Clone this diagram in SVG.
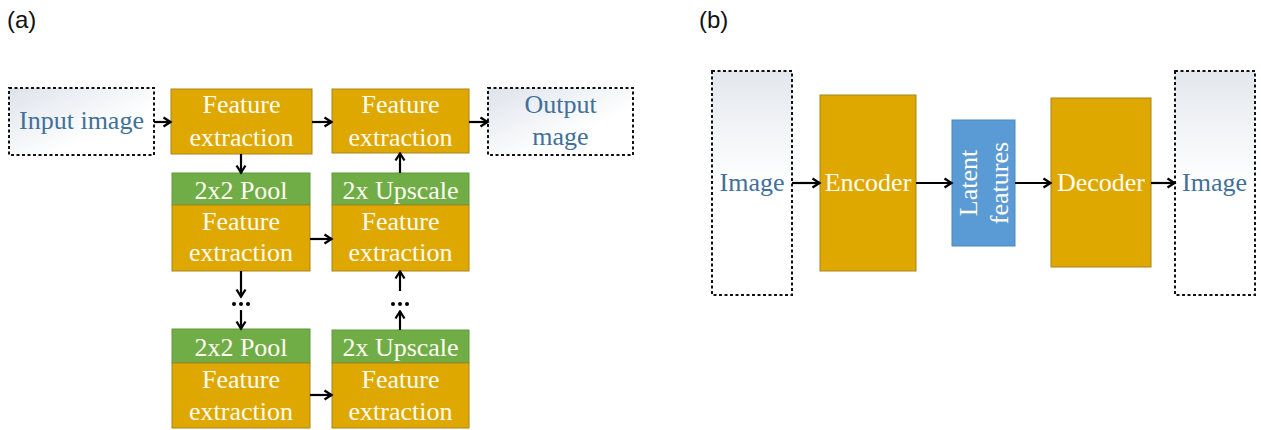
<svg xmlns="http://www.w3.org/2000/svg" width="1261" height="430" viewBox="0 0 1261 430">
<defs>
<linearGradient id="gA" x1="0" y1="0" x2="1" y2="1">
<stop offset="0" stop-color="#DEE3EB"/>
<stop offset="0.65" stop-color="#FFFFFF"/>
</linearGradient>
<linearGradient id="gB" x1="0" y1="0" x2="0" y2="1">
<stop offset="0" stop-color="#E3E7ED"/>
<stop offset="0.5" stop-color="#FFFFFF"/>
</linearGradient>
<marker id="ah" viewBox="0 0 12 12" refX="10.5" refY="6" markerWidth="12" markerHeight="12" markerUnits="userSpaceOnUse" orient="auto">
<path d="M3,1.5 L10,6 L3,10.5" fill="none" stroke="#000" stroke-width="2.3" stroke-linejoin="miter"/>
</marker>
</defs>
<style>
.lbl{font-family:"Liberation Sans",Arial,sans-serif;font-size:24px;fill:#111}
.t{font-family:"Liberation Serif","Times New Roman",serif;font-size:26px;text-anchor:middle}
.w{fill:#FFFDF2}
.b{fill:#41709A}
.dash{stroke:#111;stroke-width:2;stroke-dasharray:3 2.5}
.fe{fill:#DFA800;stroke:#A8841A;stroke-width:1}
.gr{fill:#70AD47;stroke:#5E9A3A;stroke-width:1}
.bl{fill:#5B9BD5;stroke:#4A88C0;stroke-width:1}
.c{stroke:#000;stroke-width:2.2;fill:none;marker-end:url(#ah)}
.dot{fill:#000}
</style>
<text class="lbl" x="7" y="28">(a)</text>
<text class="lbl" x="699" y="28">(b)</text>

<g id="input">
<rect x="9" y="88" width="145" height="67" fill="url(#gA)" class="dash"/>
<text class="t b" x="81.5" y="129">Input image</text>
</g>
<g id="fe1">
<rect class="fe" x="171" y="89" width="141" height="65"/>
<text class="t w" x="241.5" y="113">Feature</text>
<text class="t w" x="241.5" y="146">extraction</text>
</g>
<g id="fe2">
<rect class="fe" x="332" y="89" width="137" height="64"/>
<text class="t w" x="400.5" y="113">Feature</text>
<text class="t w" x="400.5" y="146">extraction</text>
</g>
<g id="output">
<rect x="488" y="88" width="145" height="67" fill="url(#gA)" class="dash"/>
<text class="t b" x="560.5" y="113">Output</text>
<text class="t b" x="560.5" y="145">mage</text>
</g>
<g id="pool1">
<rect class="gr" x="172" y="173" width="138" height="32"/>
<text class="t w" x="241" y="199">2x2 Pool</text>
</g>
<g id="fe3">
<rect class="fe" x="172" y="205" width="138" height="66"/>
<text class="t w" x="241" y="230">Feature</text>
<text class="t w" x="241" y="261">extraction</text>
</g>
<g id="up1">
<rect class="gr" x="332" y="173" width="137" height="32"/>
<text class="t w" x="400.5" y="199">2x Upscale</text>
</g>
<g id="fe4">
<rect class="fe" x="332" y="205" width="137" height="66"/>
<text class="t w" x="400.5" y="230">Feature</text>
<text class="t w" x="400.5" y="261">extraction</text>
</g>
<g id="pool2">
<rect class="gr" x="172" y="329" width="138" height="34"/>
<text class="t w" x="241" y="356">2x2 Pool</text>
</g>
<g id="fe5">
<rect class="fe" x="172" y="363" width="138" height="65"/>
<text class="t w" x="241" y="388">Feature</text>
<text class="t w" x="241" y="420">extraction</text>
</g>
<g id="up2">
<rect class="gr" x="332" y="330" width="137" height="33"/>
<text class="t w" x="400.5" y="356">2x Upscale</text>
</g>
<g id="fe6">
<rect class="fe" x="332" y="363" width="137" height="65"/>
<text class="t w" x="400.5" y="388">Feature</text>
<text class="t w" x="400.5" y="420">extraction</text>
</g>

<g id="imgL">
<rect x="712" y="71" width="80" height="224" fill="url(#gB)" class="dash"/>
<text class="t b" x="752" y="191">Image</text>
</g>
<g id="encoder">
<rect class="fe" x="820" y="95" width="96" height="176"/>
<text class="t w" x="868" y="191">Encoder</text>
</g>
<g id="latent">
<rect class="bl" x="952" y="120" width="63" height="126"/>
<text class="t w" transform="translate(977,183) rotate(-90)">Latent</text>
<text class="t w" transform="translate(1008,183) rotate(-90)">features</text>
</g>
<g id="decoder">
<rect class="fe" x="1051" y="98" width="100" height="169"/>
<text class="t w" x="1101" y="191">Decoder</text>
</g>
<g id="imgR">
<rect x="1175" y="71" width="80" height="224" fill="url(#gB)" class="dash"/>
<text class="t b" x="1214.5" y="191">Image</text>
</g>

<g id="connectors">
<line class="c" x1="154" y1="122" x2="171" y2="122"/>
<line class="c" x1="312" y1="122" x2="332" y2="122"/>
<line class="c" x1="469" y1="122" x2="488" y2="122"/>
<line class="c" x1="241" y1="154" x2="241" y2="173"/>
<line class="c" x1="400" y1="173" x2="400" y2="153"/>
<line class="c" x1="310" y1="239" x2="332" y2="239"/>
<line class="c" x1="310" y1="395" x2="332" y2="395"/>
<line class="c" x1="241" y1="271" x2="241" y2="297"/>
<line class="c" x1="241" y1="310" x2="241" y2="329"/>
<line class="c" x1="400" y1="291" x2="400" y2="271"/>
<line class="c" x1="400" y1="330" x2="400" y2="311"/>
<circle class="dot" cx="234" cy="304" r="2"/>
<circle class="dot" cx="241" cy="304" r="2"/>
<circle class="dot" cx="248" cy="304" r="2"/>
<circle class="dot" cx="393" cy="304" r="2"/>
<circle class="dot" cx="400" cy="304" r="2"/>
<circle class="dot" cx="407" cy="304" r="2"/>
<line class="c" x1="792" y1="183" x2="820" y2="183"/>
<line class="c" x1="916" y1="183" x2="952" y2="183"/>
<line class="c" x1="1015" y1="183" x2="1051" y2="183"/>
<line class="c" x1="1151" y1="183" x2="1175" y2="183"/>
</g>
</svg>
